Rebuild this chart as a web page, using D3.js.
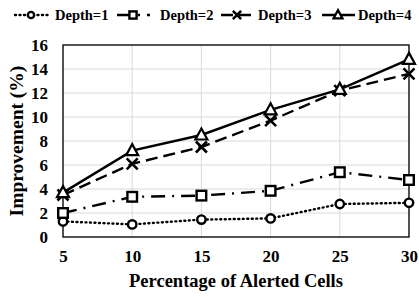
<!DOCTYPE html>
<html>
<head>
<meta charset="utf-8">
<script src="https://cdn.jsdelivr.net/npm/d3@7"></script>
<style>
  body { margin: 0; background: #fff; }
  text { font-family: "Liberation Serif", "Times New Roman", serif; font-weight: bold; fill: #000; }
</style>
</head>
<body>
<svg id="chart"></svg>
<script>
// values
var percentages = [5, 10, 15, 20, 25, 30];
var depth1 = [1.3, 1.05, 1.45, 1.55, 2.75, 2.85];
var depth2 = [2.0, 3.35, 3.45, 3.85, 5.4, 4.75];
var depth3 = [3.5, 6.1, 7.5, 9.7, 12.2, 13.6];
var depth4 = [3.7, 7.2, 8.5, 10.6, 12.3, 14.8];
var yTicks = [0, 2, 4, 6, 8, 10, 12, 14, 16];
var seriesNames = ["Depth=1", "Depth=2", "Depth=3", "Depth=4"];

var width = 419, height = 297;
var margin = {top: 45, right: 10, bottom: 60, left: 63};

var svg = d3.select("#chart")
    .attr("width", width)
    .attr("height", height);

var x = d3.scaleLinear()
    .domain([5, 30])
    .range([margin.left, width - margin.right]);

var y = d3.scaleLinear()
    .domain([0, 16])
    .range([height - margin.bottom, margin.top]);

// gridlines
svg.append("g")
  .selectAll("line")
  .data(yTicks)
  .enter().append("line")
    .attr("x1", x(5)).attr("x2", x(30))
    .attr("y1", d => y(d)).attr("y2", d => y(d))
    .attr("stroke", "#d9d9d9").attr("stroke-width", 1);

svg.append("g")
  .selectAll("line")
  .data(percentages)
  .enter().append("line")
    .attr("x1", d => x(d)).attr("x2", d => x(d))
    .attr("y1", y(0)).attr("y2", y(16))
    .attr("stroke", "#d9d9d9").attr("stroke-width", 1);

// frame
svg.append("rect")
    .attr("x", x(5)).attr("y", y(16))
    .attr("width", x(30) - x(5)).attr("height", y(0) - y(16))
    .attr("fill", "none").attr("stroke", "#000").attr("stroke-width", 1.3);

// axes
var xAxis = svg.append("g")
    .attr("transform", "translate(0," + y(0) + ")")
    .call(d3.axisBottom(x).tickValues(percentages).tickSize(0).tickPadding(13));
xAxis.select(".domain").remove();
xAxis.selectAll("text").attr("font-size", 17);

var yAxis = svg.append("g")
    .attr("transform", "translate(" + x(5) + ",0)")
    .call(d3.axisLeft(y).tickValues(yTicks).tickSize(0).tickPadding(15));
yAxis.select(".domain").remove();
yAxis.selectAll("text").attr("font-size", 17);

// axis titles
svg.append("text")
    .attr("x", (x(5) + x(30)) / 2)
    .attr("y", 287)
    .attr("text-anchor", "middle")
    .attr("font-size", 18.5)
    .text("Percentage of Alerted Cells");

svg.append("text")
    .attr("transform", "translate(23," + ((y(0) + y(16)) / 2) + ") rotate(-90)")
    .attr("text-anchor", "middle")
    .attr("font-size", 19.5)
    .text("Improvement (%)");

// series
var series = [
  {name: seriesNames[0], values: depth1, dash: "1,3.5", cap: "round", marker: "circle"},
  {name: seriesNames[1], values: depth2, dash: "14,7,2,7", cap: "butt", marker: "square"},
  {name: seriesNames[2], values: depth3, dash: "12,6", cap: "butt", marker: "cross"},
  {name: seriesNames[3], values: depth4, dash: null, cap: "butt", marker: "triangle"}
];

var line = d3.line()
    .x((d, i) => x(percentages[i]))
    .y(d => y(d));

function drawMarker(g, type, cx, cy, k) {
  k = k || 1;
  if (type === "circle") {
    g.append("circle").attr("cx", cx).attr("cy", cy).attr("r", 4.2 * k)
      .attr("fill", "#fff").attr("stroke", "#000").attr("stroke-width", 2.4);
  } else if (type === "square") {
    g.append("rect").attr("x", cx - 4.8 * k).attr("y", cy - 4.8 * k).attr("width", 9.6 * k).attr("height", 9.6 * k)
      .attr("fill", "#fff").attr("stroke", "#000").attr("stroke-width", 2.4);
  } else if (type === "cross") {
    var r = 5.5 * k;
    g.append("path").attr("d", "M" + (cx - r) + "," + (cy - r) + "L" + (cx + r) + "," + (cy + r) +
        "M" + (cx - r) + "," + (cy + r) + "L" + (cx + r) + "," + (cy - r))
      .attr("stroke", "#000").attr("stroke-width", 2.6);
  } else {
    g.append("path").attr("d", "M" + cx + "," + (cy - 6.5 * k) + "L" + (cx + 6 * k) + "," + (cy + 4.5 * k) + "L" + (cx - 6 * k) + "," + (cy + 4.5 * k) + "Z")
      .attr("fill", "#fff").attr("stroke", "#000").attr("stroke-width", 2.2);
  }
}

series.forEach(s => {
  svg.append("path")
    .datum(s.values)
    .attr("d", line)
    .attr("fill", "none")
    .attr("stroke", "#000")
    .attr("stroke-width", 2.4)
    .attr("stroke-linecap", s.cap)
    .attr("stroke-dasharray", s.dash);
  var g = svg.append("g");
  s.values.forEach((v, i) => drawMarker(g, s.marker, x(percentages[i]), y(v)));
});

// legend
var legendX = [31, 133, 237, 338];
var legendTextX = [55, 160, 258, 358];
series.forEach((s, i) => {
  var g = svg.append("g");
  g.append("line")
    .attr("x1", legendX[i] - 16).attr("x2", legendX[i] + 17)
    .attr("y1", 15).attr("y2", 15)
    .attr("stroke", "#000").attr("stroke-width", 2.4)
    .attr("stroke-linecap", s.cap)
    .attr("stroke-dasharray", s.dash);
  drawMarker(g, s.marker, legendX[i], 15, 0.75);
  g.append("text")
    .attr("x", legendTextX[i]).attr("y", 20)
    .attr("font-size", 14.5)
    .text(s.name);
});
</script>
</body>
</html>
